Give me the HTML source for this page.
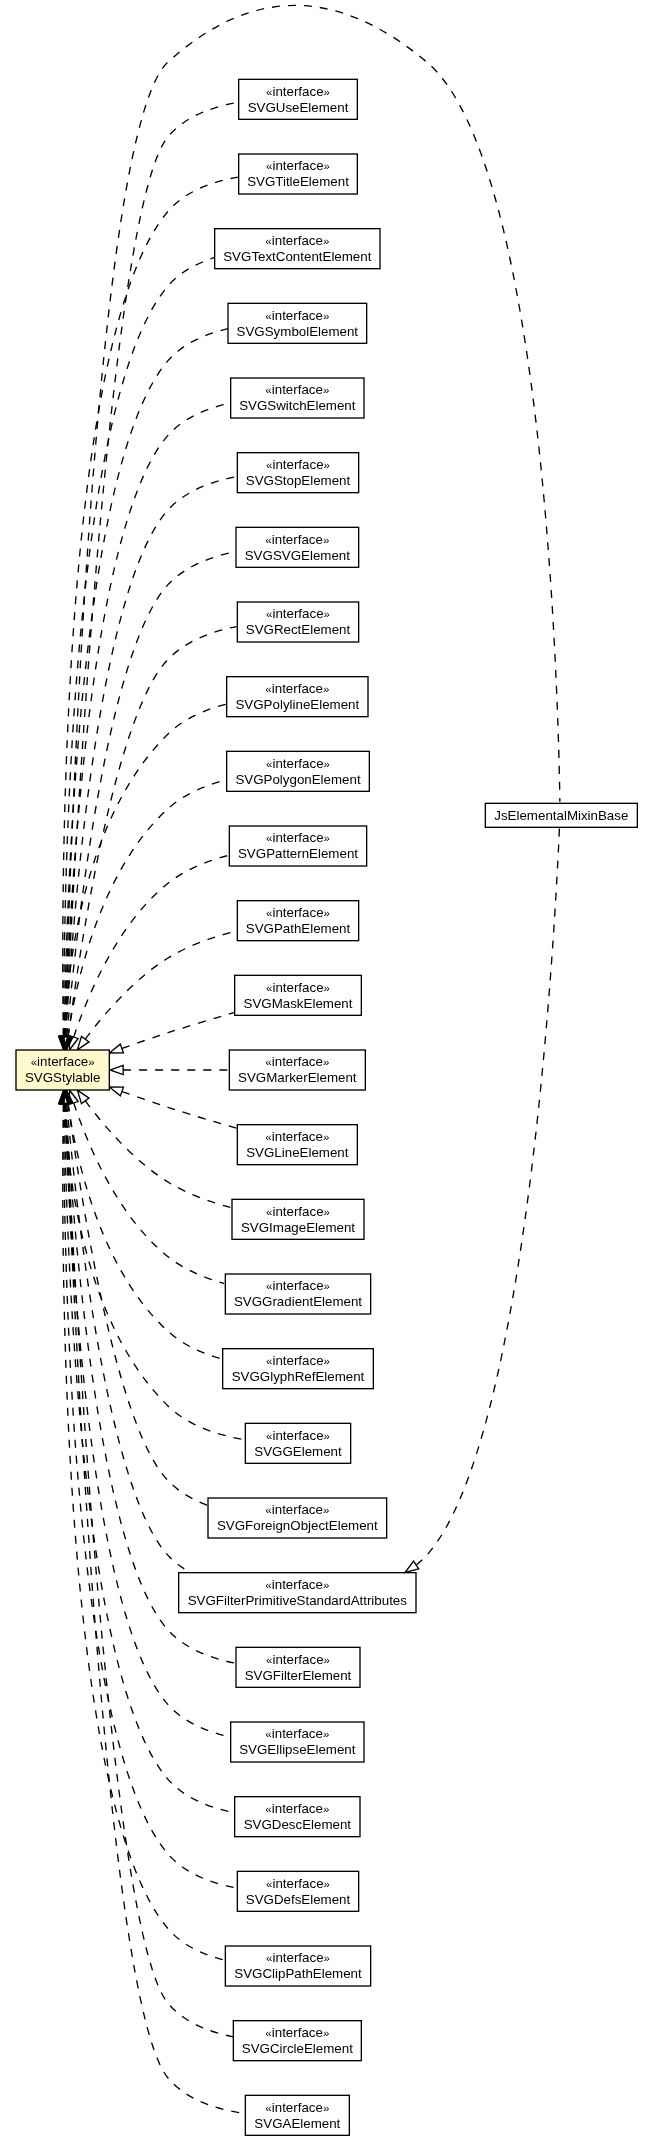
<!DOCTYPE html>
<html><head><meta charset="utf-8"><style>
html,body{margin:0;padding:0;background:#fff;}
svg{display:block;will-change:transform;}
.g{font-size:11.5px;}
.e{fill:none;stroke:#000;stroke-width:1.3333;stroke-dasharray:8 8;}
.a{fill:none;stroke:#000;stroke-width:1.3333;}
.b{fill:none;stroke:#000;stroke-width:1.3333;}
text{font-family:"Liberation Sans",sans-serif;font-size:13.3333px;text-anchor:middle;fill:#000;}
</style></head><body>
<svg width="653" height="2146" viewBox="0 0 653 2146">
<rect width="653" height="2146" fill="#fff"/>
<path class="e" d="M65.27,1103.68C71.84,1270.27 104.17,2001.43 168,2078 186.68,2100.41 217.97,2109.8 244.95,2113.56"/>
<polygon class="a" points="69.92,1103.31 64.75,1090.17 60.6,1103.67 69.92,1103.31"/>
<path class="e" d="M65.56,1103.68C73.23,1262.61 108.87,1932.99 168,2003.33 184.08,2022.48 209.39,2032.11 233.25,2036.85"/>
<polygon class="a" points="70.23,1103.41 64.93,1090.32 60.89,1103.87 70.23,1103.41"/>
<path class="e" d="M63.32,1103.96C61.15,1247.29 59.96,1801.37 168,1928.67 182.16,1945.35 203.31,1954.8 224.35,1960.09"/>
<polygon class="a" points="67.99,1103.73 63.55,1090.32 58.65,1103.57 67.99,1103.73"/>
<path class="e" d="M63.76,1104.01C63.48,1239.49 69.29,1739.04 168,1854 184.89,1873.68 211.49,1883.28 236.09,1887.87"/>
<polygon class="a" points="68.43,1103.69 63.81,1090.35 59.09,1103.67 68.43,1103.69"/>
<path class="e" d="M64.28,1103.6C66.01,1230.2 78.48,1676.51 168,1779.33 184.57,1798.37 210.23,1807.96 234.24,1812.71"/>
<polygon class="a" points="68.95,1103.39 64.12,1090.11 59.61,1103.49 68.95,1103.39"/>
<path class="e" d="M64.93,1103.83C68.85,1221.99 87.79,1614.08 168,1704.67 183.8,1722.52 207.61,1732.05 230.43,1737.07"/>
<polygon class="a" points="69.59,1103.4 64.51,1090.21 60.25,1103.69 69.59,1103.4"/>
<path class="e" d="M65.76,1104.04C72.05,1213.13 97.04,1551.56 168,1630 185.08,1648.89 211.12,1658.44 235.25,1663.19"/>
<polygon class="a" points="70.39,1103.27 64.99,1090.21 61.07,1103.79 70.39,1103.27"/>
<path class="e" d="M66.81,1104C75.68,1203.08 106.19,1488.85 168,1555.33 174.47,1562.29 182.13,1567.97 190.47,1572.61"/>
<polygon class="a" points="71.43,1103.15 65.61,1090.27 62.12,1103.95 71.43,1103.15"/>
<path class="e" d="M68.16,1103.39C79.77,1191.25 115.15,1425.89 168,1480.67 178.93,1492 193.08,1499.95 207.97,1505.51"/>
<polygon class="a" points="72.79,1102.76 66.45,1090.13 63.53,1103.96 72.79,1102.76"/>
<path class="e" d="M64.44,1103.73C67.17,1170.97 83.04,1322.43 168,1406 188.13,1425.81 218.15,1435.21 244.05,1439.64"/>
<polygon class="a" points="69.09,1103.53 64.03,1090.36 59.77,1103.83 69.09,1103.53"/>
<path class="e" d="M67.89,1103.51C76.13,1159.01 100.51,1269.97 168,1331.33 182.91,1344.89 202.45,1353.53 221.79,1359.05"/>
<polygon class="a" points="72.48,1102.61 66.05,1090.04 63.24,1103.88 72.48,1102.61"/>
<path class="e" d="M73.79,1103.24C87.83,1145.15 117.71,1216.57 168,1256.67 184.11,1269.52 204.48,1277.95 224.21,1283.47"/>
<polygon class="a" points="78.13,1101.52 69.63,1090.24 69.25,1104.37 78.13,1101.52"/>
<path class="e" d="M85.29,1100.95C104.24,1126.23 134.13,1161.09 168,1182 187.11,1193.8 210.11,1202.01 231.32,1207.68"/>
<polygon class="a" points="89.01,1098.12 77.39,1090.08 81.47,1103.61 89.01,1098.12"/>
<path class="e" d="M122.09,1091.56C137,1096.91 153.04,1102.48 168,1107.33 190.45,1114.64 215.33,1122.04 237.15,1128.32"/>
<polygon class="a" points="123.48,1087.11 109.36,1086.96 120.31,1095.88 123.48,1087.11"/>
<path class="e" d="M123.17,1070C155.52,1070 195.69,1070 229.16,1070"/>
<polygon class="a" points="123.17,1065.33 109.84,1070 123.17,1074.67 123.17,1065.33"/>
<path class="e" d="M122.09,1048.44C137,1043.11 153.04,1037.53 168,1032.67 189.36,1025.73 212.91,1018.69 233.92,1012.63"/>
<polygon class="a" points="120.31,1044.13 109.36,1053.04 123.48,1052.91 120.31,1044.13"/>
<path class="e" d="M85.29,1039.07C104.24,1013.79 134.13,978.92 168,958 188.68,945.24 213.93,936.67 236.52,930.99"/>
<polygon class="a" points="81.47,1036.4 77.39,1049.92 89.01,1041.89 81.47,1036.4"/>
<path class="e" d="M73.79,1036.77C87.83,994.85 117.71,923.44 168,883.33 185.2,869.63 207.25,860.95 228.2,855.47"/>
<polygon class="a" points="69.25,1035.64 69.63,1049.76 78.13,1038.49 69.25,1035.64"/>
<path class="e" d="M67.89,1036.51C76.13,981 100.51,870.04 168,808.67 183.93,794.19 205.17,785.31 225.77,779.85"/>
<polygon class="a" points="63.24,1036.13 66.05,1049.97 72.48,1037.4 63.24,1036.13"/>
<path class="e" d="M64.44,1036.27C67.17,969.03 83.04,817.59 168,734 183.68,718.59 205.35,709.47 226.4,704.09"/>
<polygon class="a" points="59.77,1036.19 64.03,1049.65 69.09,1036.47 59.77,1036.19"/>
<path class="e" d="M68.16,1036.63C79.77,948.76 115.15,714.11 168,659.33 185.84,640.85 212.28,631.37 236.49,626.57"/>
<polygon class="a" points="63.53,1036.05 66.45,1049.87 72.79,1037.25 63.53,1036.05"/>
<path class="e" d="M66.81,1036.01C75.68,936.92 106.19,651.15 168,584.67 185.33,566.03 211.41,556.51 235.51,551.72"/>
<polygon class="a" points="62.12,1036.05 65.61,1049.75 71.43,1036.87 62.12,1036.05"/>
<path class="e" d="M65.76,1035.97C72.05,926.88 97.04,588.45 168,510 185.39,490.77 212.07,481.23 236.57,476.57"/>
<polygon class="a" points="61.07,1036.23 64.99,1049.79 70.39,1036.73 61.07,1036.23"/>
<path class="e" d="M64.93,1036.17C68.85,918.01 87.79,525.92 168,435.33 183.8,417.49 207.61,407.96 230.43,402.95"/>
<polygon class="a" points="60.25,1036.32 64.51,1049.79 69.59,1036.61 60.25,1036.32"/>
<path class="e" d="M64.28,1036.41C66.01,909.8 78.48,463.51 168,360.67 183.12,343.29 205.83,333.79 227.93,328.65"/>
<polygon class="a" points="59.61,1036.52 64.12,1049.91 68.95,1036.63 59.61,1036.52"/>
<path class="e" d="M63.76,1036C63.48,900.52 69.29,400.97 168,286 179.91,272.13 196.67,263.27 214.13,257.64"/>
<polygon class="a" points="59.09,1036.35 63.81,1049.67 68.43,1036.31 59.09,1036.35"/>
<path class="e" d="M63.32,1036.05C61.15,892.72 59.96,338.64 168,211.33 185.23,191.04 212.8,181.45 237.96,177.04"/>
<polygon class="a" points="58.65,1036.44 63.55,1049.69 67.99,1036.28 58.65,1036.44"/>
<path class="e" d="M65.56,1036.33C73.23,877.39 108.87,207.01 168,136.67 185.13,116.29 212.69,106.69 237.87,102.29"/>
<polygon class="a" points="60.89,1036.15 64.93,1049.69 70.23,1036.59 60.89,1036.15"/>
<path class="e" d="M64.87,1035.95C69.51,867.49 93.97,128.79 168,62 253.36,-15 338.56,-11.85 426.67,62 546.07,162.09 558.61,712.11 559.87,801.68"/>
<polygon class="a" points="60.2,1036.16 64.51,1049.61 69.52,1036.4 60.2,1036.16"/>
<path class="e" d="M416.21,1565.03C419.96,1562.11 423.48,1558.89 426.67,1555.33 529.2,1441.33 555.77,914.15 559.51,826.4"/>
<polygon class="a" points="413.53,1561.2 405.04,1572.49 418.72,1568.96 413.53,1561.2"/>
<rect x="16" y="1050" width="93.33" height="40" fill="#fffacd"/>
<rect class="b" x="16" y="1050" width="93.33" height="40"/>
<text x="62.67" y="1066"><tspan class="g">«</tspan>interface<tspan class="g">»</tspan></text>
<text x="62.67" y="1082">SVGStylable</text>
<rect class="b" x="245.33" y="2095.33" width="104" height="40"/>
<text x="297.33" y="2112"><tspan class="g">«</tspan>interface<tspan class="g">»</tspan></text>
<text x="297.33" y="2128">SVGAElement</text>
<rect class="b" x="233.33" y="2020.67" width="128" height="40"/>
<text x="297.33" y="2037"><tspan class="g">«</tspan>interface<tspan class="g">»</tspan></text>
<text x="297.33" y="2053">SVGCircleElement</text>
<rect class="b" x="225.33" y="1946" width="145.33" height="40"/>
<text x="298" y="1962"><tspan class="g">«</tspan>interface<tspan class="g">»</tspan></text>
<text x="298" y="1978">SVGClipPathElement</text>
<rect class="b" x="237.33" y="1871.33" width="121.33" height="40"/>
<text x="298" y="1888"><tspan class="g">«</tspan>interface<tspan class="g">»</tspan></text>
<text x="298" y="1904">SVGDefsElement</text>
<rect class="b" x="234.67" y="1796.67" width="125.33" height="40"/>
<text x="297.33" y="1813"><tspan class="g">«</tspan>interface<tspan class="g">»</tspan></text>
<text x="297.33" y="1829">SVGDescElement</text>
<rect class="b" x="230.67" y="1722" width="133.33" height="40"/>
<text x="297.33" y="1738"><tspan class="g">«</tspan>interface<tspan class="g">»</tspan></text>
<text x="297.33" y="1754">SVGEllipseElement</text>
<rect class="b" x="236" y="1647.33" width="124" height="40"/>
<text x="298" y="1664"><tspan class="g">«</tspan>interface<tspan class="g">»</tspan></text>
<text x="298" y="1680">SVGFilterElement</text>
<rect class="b" x="178.67" y="1572.67" width="237.33" height="40"/>
<text x="297.33" y="1589"><tspan class="g">«</tspan>interface<tspan class="g">»</tspan></text>
<text x="297.33" y="1605">SVGFilterPrimitiveStandardAttributes</text>
<rect class="b" x="208" y="1498" width="178.67" height="40"/>
<text x="297.33" y="1514"><tspan class="g">«</tspan>interface<tspan class="g">»</tspan></text>
<text x="297.33" y="1530">SVGForeignObjectElement</text>
<rect class="b" x="245.33" y="1423.33" width="105.33" height="40"/>
<text x="298" y="1440"><tspan class="g">«</tspan>interface<tspan class="g">»</tspan></text>
<text x="298" y="1456">SVGGElement</text>
<rect class="b" x="222.67" y="1348.67" width="150.67" height="40"/>
<text x="298" y="1365"><tspan class="g">«</tspan>interface<tspan class="g">»</tspan></text>
<text x="298" y="1381">SVGGlyphRefElement</text>
<rect class="b" x="225.33" y="1274" width="145.33" height="40"/>
<text x="298" y="1290"><tspan class="g">«</tspan>interface<tspan class="g">»</tspan></text>
<text x="298" y="1306">SVGGradientElement</text>
<rect class="b" x="232" y="1199.33" width="132" height="40"/>
<text x="298" y="1216"><tspan class="g">«</tspan>interface<tspan class="g">»</tspan></text>
<text x="298" y="1232">SVGImageElement</text>
<rect class="b" x="237.33" y="1124.67" width="120" height="40"/>
<text x="297.33" y="1141"><tspan class="g">«</tspan>interface<tspan class="g">»</tspan></text>
<text x="297.33" y="1157">SVGLineElement</text>
<rect class="b" x="229.33" y="1050" width="136" height="40"/>
<text x="297.33" y="1066"><tspan class="g">«</tspan>interface<tspan class="g">»</tspan></text>
<text x="297.33" y="1082">SVGMarkerElement</text>
<rect class="b" x="234.67" y="975.33" width="126.67" height="40"/>
<text x="298" y="992"><tspan class="g">«</tspan>interface<tspan class="g">»</tspan></text>
<text x="298" y="1008">SVGMaskElement</text>
<rect class="b" x="237.33" y="900.67" width="121.33" height="40"/>
<text x="298" y="917"><tspan class="g">«</tspan>interface<tspan class="g">»</tspan></text>
<text x="298" y="933">SVGPathElement</text>
<rect class="b" x="229.33" y="826" width="137.33" height="40"/>
<text x="298" y="842"><tspan class="g">«</tspan>interface<tspan class="g">»</tspan></text>
<text x="298" y="858">SVGPatternElement</text>
<rect class="b" x="226.67" y="751.33" width="142.67" height="40"/>
<text x="298" y="768"><tspan class="g">«</tspan>interface<tspan class="g">»</tspan></text>
<text x="298" y="784">SVGPolygonElement</text>
<rect class="b" x="226.67" y="676.67" width="141.33" height="40"/>
<text x="297.33" y="693"><tspan class="g">«</tspan>interface<tspan class="g">»</tspan></text>
<text x="297.33" y="709">SVGPolylineElement</text>
<rect class="b" x="237.33" y="602" width="121.33" height="40"/>
<text x="298" y="618"><tspan class="g">«</tspan>interface<tspan class="g">»</tspan></text>
<text x="298" y="634">SVGRectElement</text>
<rect class="b" x="236" y="527.33" width="122.67" height="40"/>
<text x="297.33" y="544"><tspan class="g">«</tspan>interface<tspan class="g">»</tspan></text>
<text x="297.33" y="560">SVGSVGElement</text>
<rect class="b" x="237.33" y="452.67" width="121.33" height="40"/>
<text x="298" y="469"><tspan class="g">«</tspan>interface<tspan class="g">»</tspan></text>
<text x="298" y="485">SVGStopElement</text>
<rect class="b" x="230.67" y="378" width="133.33" height="40"/>
<text x="297.33" y="394"><tspan class="g">«</tspan>interface<tspan class="g">»</tspan></text>
<text x="297.33" y="410">SVGSwitchElement</text>
<rect class="b" x="228" y="303.33" width="138.67" height="40"/>
<text x="297.33" y="320"><tspan class="g">«</tspan>interface<tspan class="g">»</tspan></text>
<text x="297.33" y="336">SVGSymbolElement</text>
<rect class="b" x="214.67" y="228.67" width="165.33" height="40"/>
<text x="297.33" y="245"><tspan class="g">«</tspan>interface<tspan class="g">»</tspan></text>
<text x="297.33" y="261">SVGTextContentElement</text>
<rect class="b" x="238.67" y="154" width="118.67" height="40"/>
<text x="298" y="170"><tspan class="g">«</tspan>interface<tspan class="g">»</tspan></text>
<text x="298" y="186">SVGTitleElement</text>
<rect class="b" x="238.67" y="79.33" width="118.67" height="40"/>
<text x="298" y="96"><tspan class="g">«</tspan>interface<tspan class="g">»</tspan></text>
<text x="298" y="112">SVGUseElement</text>
<rect class="b" x="485.33" y="803.33" width="152" height="24"/>
<text x="561.33" y="820">JsElementalMixinBase</text>
</svg>
</body></html>
